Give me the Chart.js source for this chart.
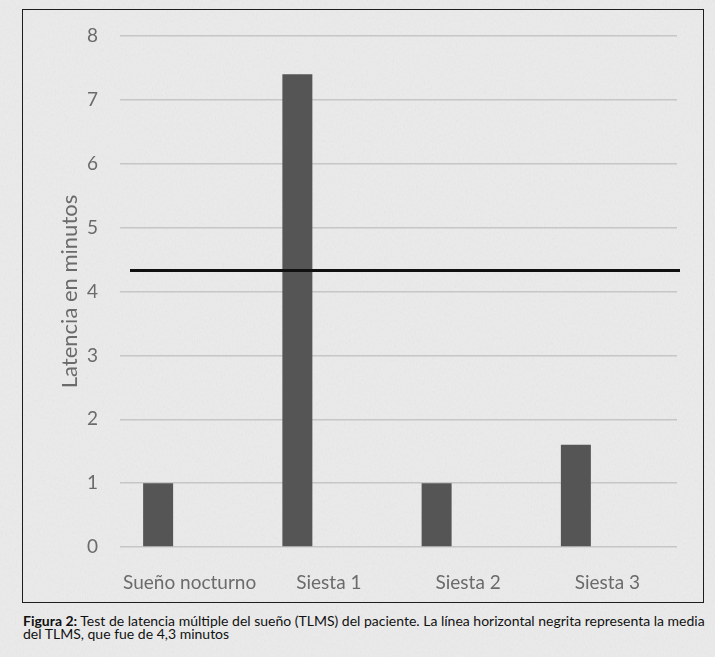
<!DOCTYPE html>
<html>
<head>
<meta charset="utf-8">
<script src="https://cdn.jsdelivr.net/npm/chart.js@4"></script>
<style>
  html, body { margin: 0; padding: 0; }
  body { width: 715px; height: 657px; background-color: #ebebeb; position: relative; overflow: hidden; font-family: Lato, sans-serif; }
  #tex { position: absolute; left: 0; top: 0; width: 715px; height: 657px; opacity: 0.10;
    background-image: url("data:image/svg+xml;utf8,<svg xmlns='http://www.w3.org/2000/svg' width='715' height='657'><filter id='n'><feTurbulence type='fractalNoise' baseFrequency='0.9 0.35' numOctaves='3' seed='4'/><feColorMatrix type='saturate' values='0'/></filter><rect width='100%' height='100%' filter='url(%23n)'/></svg>"); }
  #box { position: absolute; left: 22px; top: 9px; width: 680px; height: 592px; border: 1.5px solid #1e1e1e; }
  #wrap { position: absolute; left: 0; top: 0; width: 715px; height: 610px; }
  #cap { position: absolute; left: 23px; top: 614px; width: 690px; font-size: 14px; line-height: 13px; color: #111; }
  #cap b { font-weight: bold; }
</style>
</head>
<body>
<div id="tex"></div>
<div id="box"></div>
<div id="wrap"><canvas id="c" width="715" height="610"></canvas></div>
<div id="cap"><b>Figura 2:</b> Test de latencia múltiple del sueño (TLMS) del paciente. La línea horizontal negrita representa la media del TLMS, que fue de 4,3 minutos</div>
<script>
const categories = ["Sueño nocturno", "Siesta 1", "Siesta 2", "Siesta 3"];
const latencyValues = [1, 7.4, 1, 1.6];
const meanLatency = 4.33;
const yTicks = [0, 1, 2, 3, 4, 5, 6, 7, 8];
const yTitle = "Latencia en minutos";

const meanLinePlugin = {
  id: 'meanLine',
  afterDatasetsDraw(chart) {
    const y = chart.scales.y.getPixelForValue(meanLatency);
    const a = chart.chartArea;
    const ctx = chart.ctx;
    ctx.save();
    ctx.strokeStyle = '#111';
    ctx.lineWidth = 3;
    ctx.beginPath();
    ctx.moveTo(a.left + 10, y);
    ctx.lineTo(a.right + 3, y);
    ctx.stroke();
    ctx.restore();
  }
};

new Chart(document.getElementById('c'), {
  type: 'bar',
  data: {
    labels: categories,
    datasets: [
      { data: latencyValues, backgroundColor: '#555555', borderWidth: 0,
        categoryPercentage: 0.905, barPercentage: 0.476 },
      { data: categories.map(() => null), backgroundColor: 'rgba(0,0,0,0)',
        categoryPercentage: 0.905, barPercentage: 0.476 }
    ]
  },
  options: {
    responsive: false,
    animation: false,
    layout: { padding: { left: 57, right: 38, top: 36, bottom: 0 } },
    plugins: { legend: { display: false }, tooltip: { enabled: false } },
    scales: {
      x: {
        grid: { display: false },
        border: { display: false },
        ticks: { color: '#6b6b6b', font: { family: 'Lato', size: 19 }, padding: 16, maxRotation: 0 },
        afterFit(s) { s.height = 63; }
      },
      y: {
        min: 0, max: 8,
        afterBuildTicks(s) { s.ticks = yTicks.map(v => ({ value: v })); },
        grid: { color: '#c6c6c6', lineWidth: 1.5, drawTicks: false },
        border: { display: false },
        ticks: { color: '#6b6b6b', font: { family: 'Lato', size: 19 }, padding: 22 },
        title: { display: true, text: yTitle, color: '#6b6b6b', font: { family: 'Lato', size: 22 }, padding: 0 },
        afterFit(s) { s.width = 120 - 57; }
      }
    }
  },
  plugins: [meanLinePlugin]
});
</script>
</body>
</html>
